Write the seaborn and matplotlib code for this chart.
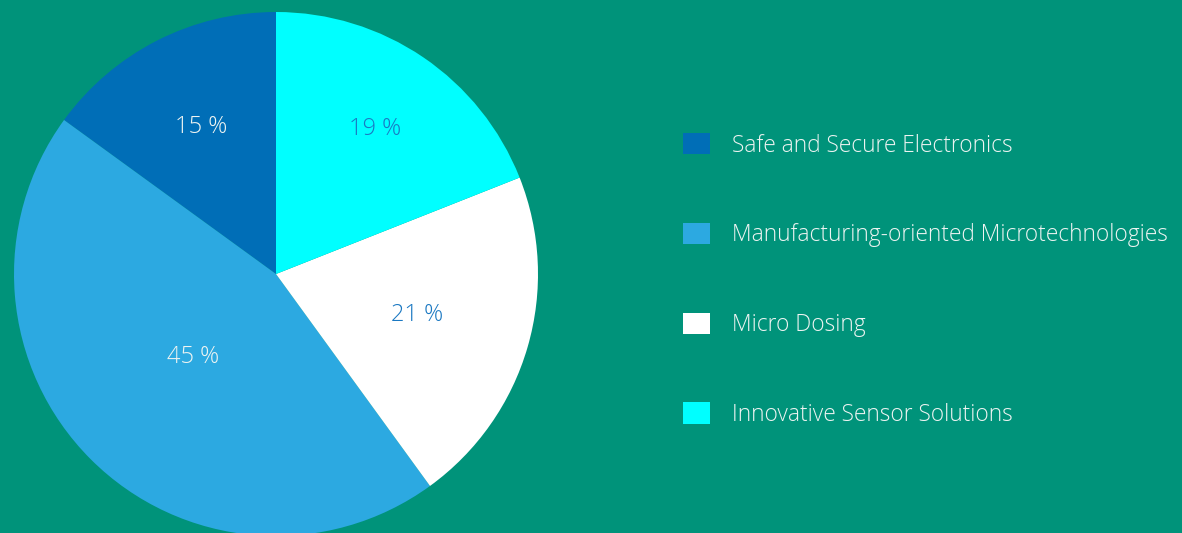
import seaborn as sns
import matplotlib.pyplot as plt
import numpy as np

# data
categories = ["Safe and Secure Electronics", "Manufacturing-oriented Microtechnologies",
              "Micro Dosing", "Innovative Sensor Solutions"]
shares = [15, 45, 21, 19]
label_colors = ["#eef4f2", "#eef4f2", "#1a78c2", "#1a78c2"]
label_dist = [0.63, 0.45, 0.56, 0.67]

bg = "#00937a"
colors = sns.color_palette(["#006eb7", "#2ca9e1", "#ffffff", "#00ffff"])

sns.set_theme(style="white")
plt.rcParams["font.family"] = ["Open Sans", "DejaVu Sans"]

fig = plt.figure(figsize=(11.82, 5.33), dpi=100, facecolor=bg)
ax = fig.add_axes([14 / 1182, -3 / 533, 524 / 1182, 524 / 533])
ax.set_facecolor(bg)

wedges, _ = ax.pie(shares, colors=colors, startangle=90, counterclock=True,
                   wedgeprops=dict(linewidth=0))
ax.set_xlim(-1, 1)
ax.set_ylim(-1, 1)
ax.set_aspect("equal")
ax.axis("off")

# percentage labels
for w, s, c, d in zip(wedges, shares, label_colors, label_dist):
    mid = np.deg2rad((w.theta1 + w.theta2) / 2)
    ax.text(d * np.cos(mid), d * np.sin(mid), f"{s} %", color=c, fontsize=17,
            ha="center", va="center", fontweight="light")

leg = fig.legend(wedges, categories, loc="center left",
                 bbox_to_anchor=(672 / 1182, 1 - 280 / 533), frameon=False,
                 labelcolor="#eef4f2", borderpad=0,
                 labelspacing=2.87, handlelength=1.18, handleheight=1.05,
                 handletextpad=0.96, prop=dict(weight="light", size=16.4))

fig.savefig("out.png", dpi=100, facecolor=bg)
